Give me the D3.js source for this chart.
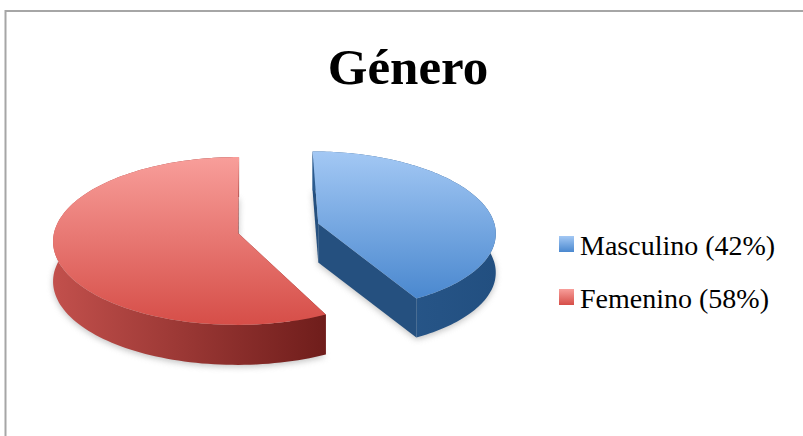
<!DOCTYPE html>
<html>
<head>
<meta charset="utf-8">
<style>
  html, body { margin: 0; padding: 0; background: #fff; }
  svg { display: block; }
  text { font-family: "Liberation Serif", serif; fill: #000; }
</style>
</head>
<body>
<svg id="chart" width="803" height="436"></svg>
<script src="https://cdnjs.cloudflare.com/ajax/libs/d3/7.2.1/d3.min.js"></script>
<script>
  const categories = ["Masculino", "Femenino"];
  const shares = [42, 58];
  const chartTitle = "Género";

  const svg = d3.select("#chart");
  const defs = svg.append("defs");

  // frame: only the top and left edges show in the crop
  svg.append("path")
      .attr("d", "M5.5,436V11H803")
      .attr("fill", "none").attr("stroke", "#a6a6a6").attr("stroke-width", 2);

  svg.append("text")
      .attr("x", 408).attr("y", 84)
      .attr("text-anchor", "middle")
      .style("font-size", "51px").style("font-weight", "bold")
      .text(chartTitle);

  // perspective plane: horizon far above the pie, nearer parts get bigger
  const vanishX = 250, planeY = 233, persp = 0.000516, squash = 0.452;
  const project = (X, Y) => {
    const s = 1 / (1 - persp * Y);
    return [vanishX + X * s, planeY + squash * Y * s];
  };

  const pie = d3.pie().sort(null).value(d => d);
  const arcs = pie(shares);

  // styling of each slice, same order as categories
  const looks = [
    {off: [69, -21], radius: 178, depth: 39, trim: 0, top: ["#a3c8f4", "#4a88cf"], side: ["#2c5c90", "#224f80"], cut: "#25507f"},
    {off: [-12, 0], radius: 184, depth: 40, trim: 0.045, top: ["#f89e9a", "#d64e48"], side: ["#c2504c", "#6f1d1b"], cut: "#7d2a28"}
  ];

  const line = d3.line();
  const gradient = (id, colors, x1, y1, x2, y2) => {
    const g = defs.append("linearGradient").attr("id", id)
        .attr("x1", x1).attr("y1", y1).attr("x2", x2).attr("y2", y2);
    colors.forEach((c, i) => g.append("stop").attr("offset", i / (colors.length - 1)).attr("stop-color", c));
  };

  const blur = defs.append("filter").attr("id", "soft")
      .attr("x", "-10%").attr("y", "-10%").attr("width", "120%").attr("height", "120%");
  blur.append("feGaussianBlur").attr("stdDeviation", 3);

  arcs.forEach((a, i) => {
    const look = looks[i];
    const shift = p => [p[0], p[1] + look.depth];
    const onRim = t => project(look.off[0] + look.radius * Math.sin(t), look.off[1] - look.radius * Math.cos(t));
    const apex = project(look.off[0], look.off[1]);
    const from = a.startAngle + look.trim;
    const rim = d3.range(0, 121).map(k => onRim(from + (a.endAngle - from) * k / 120));
    const topFace = [apex, ...rim];
    const lowFace = topFace.map(shift);

    gradient("top" + i, look.top, 0, 0, 0, 1);
    gradient("side" + i, look.side, 0, 0, 1, 0);

    const g = svg.append("g");

    // soft shadow around the whole solid
    g.append("path")
        .attr("d", line(lowFace.map(p => [p[0], p[1] + 2])) + "Z")
        .attr("fill", "#999").attr("opacity", 0.6)
        .attr("filter", "url(#soft)");

    // the two cut walls
    [rim[0], rim[rim.length - 1]].forEach(p => {
      g.append("path")
          .attr("d", line([apex, p, shift(p), shift(apex)]) + "Z")
          .attr("fill", look.cut);
    });

    // outer wall
    const lowRim = rim.map(shift).reverse();
    g.append("path")
        .attr("d", line([...rim, ...lowRim]) + "Z")
        .attr("fill", `url(#side${i})`);

    g.append("path")
        .attr("d", line(topFace) + "Z")
        .attr("fill", `url(#top${i})`);
  });

  // legend
  looks.forEach((l, i) => gradient("legend" + i, l.top, 0, 0, 0, 1));
  const legendY = d3.scalePoint().domain(categories).range([244, 297]);
  const legend = svg.append("g").selectAll("g").data(categories).join("g")
      .attr("transform", d => `translate(559,${legendY(d)})`);
  legend.append("rect")
      .attr("x", 0).attr("y", -8).attr("width", 15).attr("height", 16)
      .attr("fill", (d, i) => `url(#legend${i})`);
  legend.append("text")
      .attr("x", 21).attr("y", 11)
      .style("font-size", "28px")
      .text((d, i) => `${d} (${shares[i]}%)`);
</script>
</body>
</html>
